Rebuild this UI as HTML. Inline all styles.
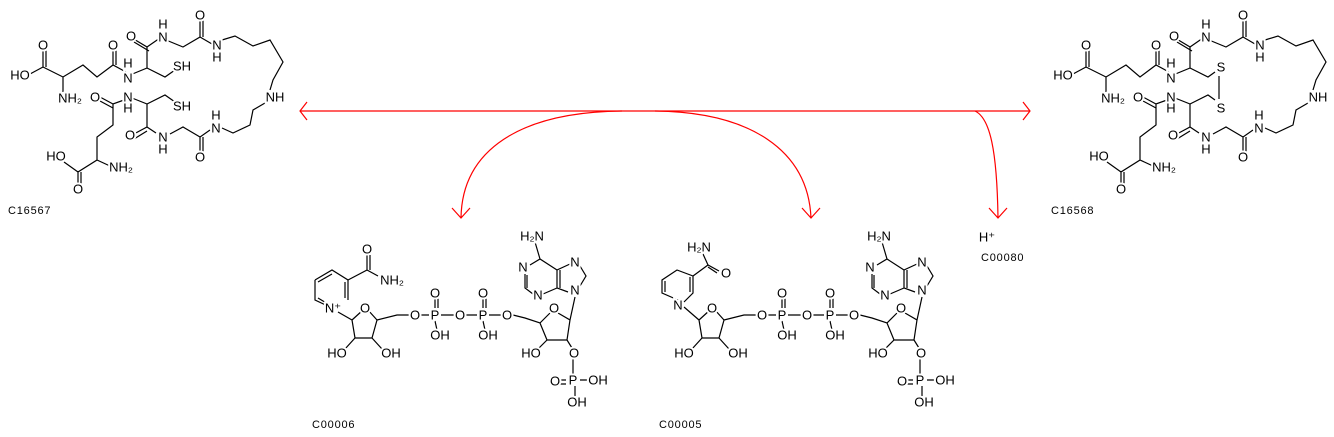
<!DOCTYPE html>
<html><head><meta charset="utf-8"><style>
html,body{margin:0;padding:0;background:#fff;}
svg{display:block;}
text{font-family:"Liberation Sans",Arial,sans-serif;font-size:13px;fill:#000;text-anchor:middle;dominant-baseline:central;paint-order:stroke;stroke:#fff;stroke-width:4px;}
text.lab{font-size:11px;text-anchor:start;stroke:none;letter-spacing:0.8px;}
.b{stroke:#000;stroke-width:1.2;fill:none;}
</style></head><body>
<svg width="1334" height="437" viewBox="0 0 1334 437" xmlns="http://www.w3.org/2000/svg">
<defs>
<g id="pep">
<path class="b" d="M30,74 L43,67 L63,77 L83,65 L97,77 L113,65 L126,72 M43,67 L43,50 M46,67 L46,50 M63,77 L63,92 M113,65 L113,48 M116,65 L116,48
M130,75 L147,68 L147,47 L132,38 M149,51 L134,42 M147,47 L160,38 M166,40 L183,47 L200,37 L200,18 M203,37 L203,18 M200,37 L212,44
M222,40 L235,36 L253,46 L270,40 L283,62 L273,80 L270,90 M265,103 L253,110 L250,125 L233,133 L222,128 M210,130 L200,137 L200,153 M203,137 L203,153 M200,137 L183,127 L170,134
M156,133 L147,127 L132,135 M147,131 L134,139 M147,127 L147,104 L132,98 M124,100 L113,104 L100,97 M113,108 L100,101 M113,104 L113,125 L97,137 L97,160 L78,172 L78,185 M81,172 L81,185 M78,172 L64,162 M97,160 L110,166"/>
<text x="20" y="75">HO</text><text x="43" y="45">O</text><text x="70" y="98">NH₂</text>
<text x="113" y="45">O</text><text x="128" y="78">N</text><text x="128" y="63">H</text>
<text x="131" y="36">O</text><text x="163" y="37">N</text><text x="163" y="24">H</text>
<text x="200" y="15">O</text><text x="217" y="45">N</text><text x="217" y="57">H</text>
<text x="275" y="97">NH</text><text x="216" y="128">N</text><text x="216" y="115">H</text>
<text x="200" y="157">O</text><text x="163" y="137">N</text><text x="163" y="149">H</text>
<text x="130" y="135">O</text><text x="128" y="97">N</text><text x="128" y="108">H</text>
<text x="95" y="97">O</text><text x="121" y="167">NH₂</text><text x="78" y="189">O</text><text x="56" y="156">HO</text>
</g>
<g id="tail">
<path class="b" d="M352,320 L363,310 M368,310 L377,320 L372,338 L355,338 L352,320 M355,338 L345,349 M372,338 L382,349
M377,320 L397,315 L409,315 M421,315 L429,315 M441,315 L454,315 M466,315 L477,315 M435,308 L435,298 M438,308 L438,298 M435,321 L437,330
M489,315 L501,315 M483,308 L483,298 M486,308 L486,298 M483,321 L485,330 M513,315 L525,318 L540,323 L550,313 M558,313 L570,320 L567,340 L547,340 L540,323 M547,340 L538,349 M567,340 L572,348
M573,359 L573,374 M580,380 L590,380 M566,380 L560,380 M566,384 L560,384 M575,386 L575,396
M570,320 L575,297 M580,286 L586,276 L580,266 M570,264 L557,270 L557,288 L568,292 M560,270 L560,288 M557,270 L540,259 L530,265 M557,288 L543,294 M533,294 L525,288 L525,274 M527,288 L527,275 M540,259 L535,242"/>
<text x="365" y="308">O</text>
<text x="337" y="353">HO</text><text x="391" y="353">OH</text><text x="415" y="315">O</text><text x="435" y="315">P</text><text x="435" y="293">O</text><text x="440" y="335">OH</text>
<text x="460" y="315">O</text><text x="483" y="315">P</text><text x="483" y="293">O</text><text x="488" y="335">OH</text><text x="507" y="315">O</text><text x="554" y="308">O</text>
<text x="531" y="353">HO</text><text x="574" y="353">O</text><text x="573" y="380">P</text><text x="555" y="381">O</text><text x="598" y="380">OH</text><text x="577" y="402">OH</text>
<text x="575" y="290">N</text><text x="575" y="262">N</text><text x="523" y="267">N</text><text x="538" y="295">N</text><text x="532" y="236">H₂N</text>
</g>
</defs>
<use href="#pep"/>
<path class="b" d="M147,68 L165,77 L175,70 M147,104 L165,95 L175,102"/>
<text x="182" y="66">SH</text><text x="182" y="106">SH</text>
<text class="lab" x="8" y="211">C16567</text>
<g transform="translate(1043,0)">
<use href="#pep"/>
<path class="b" d="M147,68 L165,77 L172,72 M147,104 L165,95 L172,100 M176,76 L176,99"/>
<text x="178" y="67">S</text><text x="178" y="108">S</text>
<text class="lab" x="8" y="211">C16568</text>
</g>
<use href="#tail"/>
<path class="b" d="M315,280 L332,270 L348,280 L348,300 M332,308 L315,300 L315,280 M318,282 L332,274 M345,282 L345,298 M318,298 L328,304 M348,280 L367,270 L367,255 M370,270 L370,255 M367,270 L378,276 M338,312 L352,320"/>
<text x="333" y="308">N⁺</text><text x="367" y="249">O</text><text x="392" y="280">NH₂</text>
<text class="lab" x="312" y="425">C00006</text>
<g transform="translate(347,0)"><use href="#tail"/></g>
<path class="b" d="M678,300 L662,293 L662,280 L677,270 L693,276 L693,293 L684,302 M665,292 L665,281 M690,277 L690,292 M693,276 L708,265 L719,271 M708,267 L717,273 M708,265 L703,254 M684,307 L699,320"/>
<text x="678" y="305">N</text><text x="726" y="273">O</text><text x="699" y="247">H₂N</text>
<text class="lab" x="659" y="425">C00005</text>
<text x="987" y="237">H⁺</text>
<text class="lab" x="981" y="258">C00080</text>
<g stroke="#f00" stroke-width="1.2" fill="none">
<path d="M300,111 L1030,111 M307,102 L300,111 L307,120 M1023,102 L1030,111 L1023,120"/>
<path d="M622,111 C520,112 462,150 461,218 M452,208 L461,218 L470,208"/>
<path d="M655,111 C750,112 808,150 811,218 M802,208 L811,218 L820,208"/>
<path d="M975,111 C990,118 997,150 998,218 M989,208 L998,218 L1007,208"/>
</g>
</svg>
</body></html>
